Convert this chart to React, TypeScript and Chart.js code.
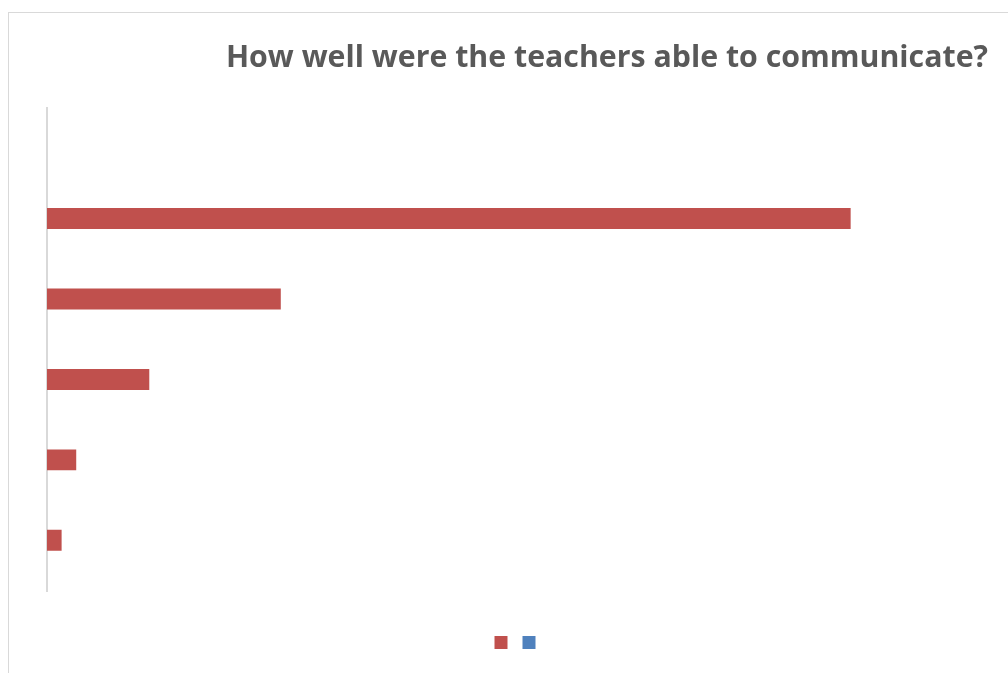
import React, { useEffect, useRef } from "react";
import { Chart, registerables } from "chart.js";

Chart.register(...registerables);

const titleText = "How well were the teachers able to communicate?";
const categories = ["", "Very well", "Well", "Somewhat", "Poorly", "Not at all"];
const seriesA = [0, 55, 16, 7, 2, 1];
const seriesB = [0, 0, 0, 0, 0, 0];
const seriesLabels = ["", ""];
const xMax = 64.4;

export default function App() {
  const ref = useRef<HTMLCanvasElement | null>(null);

  useEffect(() => {
    document.body.style.overflow = "hidden";
    if (!ref.current) return;
    const chart = new Chart(ref.current, {
      type: "bar",
      data: {
        labels: categories,
        datasets: [
          {
            label: seriesLabels[0],
            data: seriesA,
            backgroundColor: "#C0504D",
            borderWidth: 0,
            barPercentage: 1,
            categoryPercentage: 0.52,
          },
          {
            label: seriesLabels[1],
            data: seriesB,
            backgroundColor: "#4F81BD",
            borderWidth: 0,
            barPercentage: 1,
            categoryPercentage: 0.52,
          },
        ],
      },
      options: {
        indexAxis: "y",
        animation: false,
        responsive: false,
        maintainAspectRatio: false,
        layout: { padding: { left: 38, right: 20, top: 0, bottom: 14 } },
        scales: {
          x: {
            display: true,
            min: 0,
            max: xMax,
            ticks: { display: false },
            grid: { display: false, drawTicks: false },
            border: { display: false },
            afterFit: (scale: any) => {
              scale.height = 35;
            },
          },
          y: {
            display: true,
            ticks: { display: false },
            grid: { display: false, drawTicks: false },
            border: { display: true, color: "#d9d9d9", width: 2 },
          },
        },
        plugins: {
          title: {
            display: true,
            text: titleText,
            align: "end",
            color: "#595959",
            font: { family: "'Open Sans', sans-serif", size: 30.3, weight: "bold" },
            padding: { top: 27, bottom: 32 },
          },
          legend: {
            display: true,
            position: "bottom",
            labels: {
              boxWidth: 13,
              boxHeight: 13,
              padding: 10,
              font: { size: 10 },
            },
          },
          tooltip: { enabled: false },
        },
      },
    });
    return () => chart.destroy();
  }, []);

  return (
    <div
      style={{
        position: "fixed",
        left: 8,
        top: 12,
        right: -5,
        bottom: -5,
        border: "1px solid #d9d9d9",
        background: "#fff",
      }}
    >
      <canvas
        ref={ref}
        width={999}
        height={660}
        style={{ position: "absolute", left: 0, top: 0, width: 999, height: 660 }}
      />
    </div>
  );
}
